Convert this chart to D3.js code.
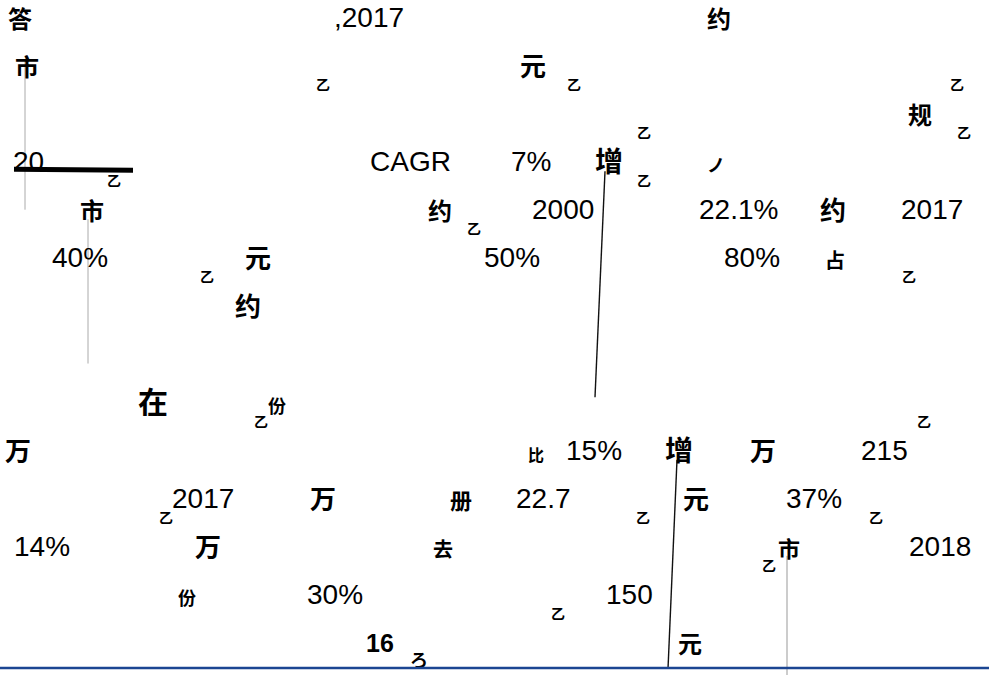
<!DOCTYPE html>
<html lang="zh">
<head>
<meta charset="utf-8">
<style>
  body { margin: 0; background: #fff; }
  svg { display: block; background: #fff; }
  .num { font-family: "Liberation Sans", Arial, sans-serif; font-size: 28px; fill: #000; }
  .bold { font-weight: bold; font-size: 25px; }
  .frag { font-family: "Noto Sans CJK SC", sans-serif; fill: #000; }
</style>
<title></title>
</head>
<body>
<script src="https://d3js.org/d3.v7.min.js"></script>
<script>
  // text lines of the page (row 0 = first line)
  var rowCount = 13;

  // latin text and numbers that survived on the page
  var numTexts = [",2017", "20", "CAGR", "7%", "2000", "22.1%", "2017", "40%", "50%", "80%",
                  "15%", "215", "2017", "22.7", "37%", "14%", "2018", "30%", "150"];
  var numCols  = [334, 13, 370, 511, 532, 699, 901, 52, 484, 724,
                  566, 861, 172, 516, 786, 14, 909, 307, 606];
  var numRows  = [0, 3, 3, 3, 4, 4, 4, 5, 5, 5,
                  9, 9, 10, 10, 10, 11, 11, 12, 12];

  var boldTexts = ["16"];
  var boldCols  = [366];
  var boldRows  = [13];

  // broken "亿" glyphs: only the 乙 part is drawn
  var yiCols = [316, 567, 950, 637, 957, 107, 637, 467, 200, 902, 254, 917, 159, 636, 869, 762, 551];
  var yiRows = [1, 1, 1, 2, 2, 3, 3, 4, 5, 5, 8, 8, 10, 10, 10, 11, 12];

  // other broken CJK glyphs
  var fragTexts = ["答", "约", "市", "元", "规", "增", "ノ", "市", "约", "约",
                   "元", "占", "约", "在", "份", "万", "比", "增", "万",
                   "万", "册", "元", "万", "去", "市", "份", "ろ", "元"];
  var fragCols  = [8, 707, 15, 520, 908, 595, 707, 80, 428, 820,
                   245, 825, 235, 138, 268, 5, 528, 665, 750,
                   310, 450, 683, 195, 433, 778, 178, 410, 678];
  var fragRows  = [0, 0, 1, 1, 2, 3, 3, 4, 4, 4,
                   5, 5, 6, 8, 8, 9, 9, 9, 9,
                   10, 10, 10, 11, 11, 11, 12, 13.3, 13];
  var fragSizes = [24, 24, 24, 26, 24, 28, 18, 24, 24, 26,
                   26, 20, 26, 30, 18, 26, 16, 28, 26,
                   26, 22, 26, 26, 20, 22, 18, 18, 24];

  // stray rules left in the page
  var ruleX1 = [25, 88, 605, 677, 787];
  var ruleY1 = [0.7, 4, 3, 9, 11];
  var ruleX2 = [25, 88, 595, 668, 787];
  var ruleY2 = [3.8, 7, 7.7, 13.35, 13.5];
  var ruleColors = ["#aaa", "#aaa", "#111", "#111", "#999"];
  var ruleWidths = [1, 1, 1.4, 1.4, 1];

  var width = 989, height = 675;

  var x = d3.scaleLinear().domain([0, width]).range([0, width]);
  var y = d3.scaleLinear().domain([0, rowCount]).range([27, 652]);

  var svg = d3.select("body").append("svg")
      .attr("width", width)
      .attr("height", height);

  // rules
  svg.append("g").selectAll("line")
      .data(d3.zip(ruleX1, ruleY1, ruleX2, ruleY2, ruleColors, ruleWidths))
      .enter().append("line")
      .attr("x1", function(d) { return x(d[0]); })
      .attr("y1", function(d) { return y(d[1]); })
      .attr("x2", function(d) { return x(d[2]); })
      .attr("y2", function(d) { return y(d[3]); })
      .attr("stroke", function(d) { return d[4]; })
      .attr("stroke-width", function(d) { return d[5]; });

  // thick strike through "20"
  svg.append("line")
      .attr("x1", x(14)).attr("y1", y(3) - 2)
      .attr("x2", x(133)).attr("y2", y(3) - 1)
      .attr("stroke", "#000")
      .attr("stroke-width", 5);

  // broken CJK glyphs
  svg.append("g").selectAll("text")
      .data(d3.zip(fragTexts, fragCols, fragRows, fragSizes))
      .enter().append("text")
      .attr("class", "frag")
      .attr("x", function(d) { return x(d[1]); })
      .attr("y", function(d) { return y(d[2]) + 1; })
      .attr("font-size", function(d) { return d[3] + "px"; })
      .attr("font-weight", "bold")
      .text(function(d) { return d[0]; });

  svg.append("g").selectAll("text")
      .data(d3.zip(yiCols, yiRows))
      .enter().append("text")
      .attr("class", "frag")
      .attr("x", function(d) { return x(d[0]); })
      .attr("y", function(d) { return y(d[1]) + 15; })
      .attr("font-size", "14px")
      .attr("font-weight", "bold")
      .text("乙");

  // numbers
  svg.append("g").selectAll("text")
      .data(d3.zip(numTexts, numCols, numRows))
      .enter().append("text")
      .attr("class", "num")
      .attr("x", function(d) { return x(d[1]); })
      .attr("y", function(d) { return y(d[2]); })
      .text(function(d) { return d[0]; });

  svg.append("g").selectAll("text")
      .data(d3.zip(boldTexts, boldCols, boldRows))
      .enter().append("text")
      .attr("class", "num bold")
      .attr("x", function(d) { return x(d[1]); })
      .attr("y", function(d) { return y(d[2]); })
      .text(function(d) { return d[0]; });

  // page rule at the foot
  svg.append("line")
      .attr("x1", 0).attr("x2", width)
      .attr("y1", 668).attr("y2", 668)
      .attr("stroke", "#1b4592")
      .attr("stroke-width", 2.5);
</script>
</body>
</html>
